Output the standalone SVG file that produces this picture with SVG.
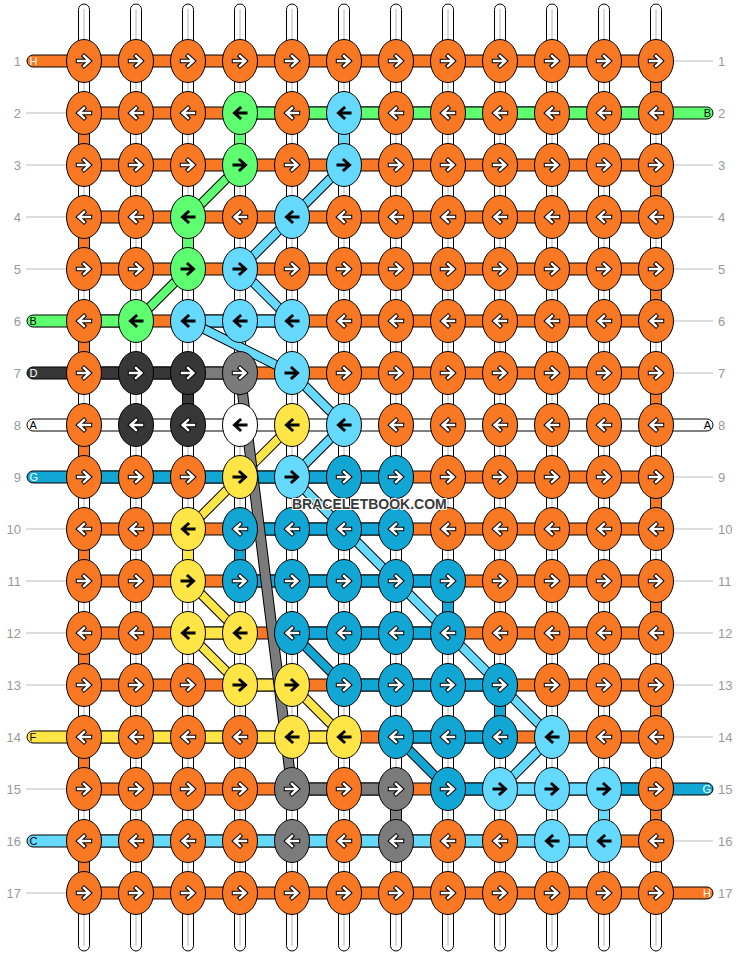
<svg xmlns="http://www.w3.org/2000/svg" xmlns:xlink="http://www.w3.org/1999/xlink" width="740" height="956" viewBox="0 0 740 956">
<style>
.co{fill:#f97823}.cg{fill:#5eff70}.cl{fill:#66d9ff}.cb{fill:#12a6d4}.cd{fill:#373737}.cs{fill:#7b7b7b}.cy{fill:#ffe546}.cw{fill:#fff}
.seg{stroke:#000;stroke-width:1}
.ao{fill:none;stroke:#000;stroke-width:4.4;stroke-linecap:square}
.ai{fill:none;stroke:#fff;stroke-width:2.4;stroke-linecap:square}
.ab{fill:none;stroke:#000;stroke-width:3;stroke-linecap:square}
.num{font-family:"Liberation Sans",Arial,sans-serif;font-size:13px;fill:#999}
.tl{font-family:"Liberation Sans",Arial,sans-serif;font-size:11px}
.guide{stroke:#bbb;stroke-width:1}
.dk{fill:none;stroke:#000;stroke-width:10}
.dgs{fill:none;stroke:#000;stroke-width:11}
.wm{font-family:"Liberation Sans",Arial,sans-serif;font-size:14px;font-weight:bold;fill:#3a3a3a;stroke:#fff;stroke-width:2;paint-order:stroke}
</style>
<defs>
<ellipse id="kn" cx="0" cy="0" rx="17.5" ry="21.5" stroke="#000" stroke-width="1"/>
<path id="pr" d="M-6,0H4.5M0,-5L5.5,0L0,5"/>
<path id="pl" d="M6,0H-4.5M0,-5L-5.5,0L0,5"/>
<g id="rw"><use href="#pr" class="ao"/><use href="#pr" class="ai"/></g>
<g id="lw"><use href="#pl" class="ao"/><use href="#pl" class="ai"/></g>
<use id="rb" href="#pr" class="ab"/>
<use id="lb" href="#pl" class="ab"/>
<g id="vs"><rect x="-5.5" y="4" width="11" height="947" rx="5.5" fill="#fff" stroke="#000"/><line x1="0" y1="9" x2="0" y2="946" stroke="#b4b4b4"/></g>
</defs>
<rect width="740" height="956" fill="#fff"/>
<g id="connectors">
<g id="base-strings">
<use href="#vs" x="84"/><use href="#vs" x="136"/><use href="#vs" x="188"/><use href="#vs" x="240"/><use href="#vs" x="292"/><use href="#vs" x="344"/><use href="#vs" x="396"/><use href="#vs" x="448"/><use href="#vs" x="500"/><use href="#vs" x="552"/><use href="#vs" x="604"/><use href="#vs" x="656"/>
</g>
<g id="vertical-segments" class="seg">
<rect class="co" x="78.5" y="113" width="11" height="52"/><rect class="co" x="78.5" y="217" width="11" height="52"/><rect class="co" x="78.5" y="321" width="11" height="52"/><rect class="co" x="78.5" y="425" width="11" height="52"/><rect class="co" x="78.5" y="529" width="11" height="52"/><rect class="co" x="78.5" y="633" width="11" height="52"/><rect class="co" x="78.5" y="737" width="11" height="52"/><rect class="co" x="78.5" y="841" width="11" height="52"/>
<rect class="co" x="650.5" y="61" width="11" height="52"/><rect class="co" x="650.5" y="165" width="11" height="52"/><rect class="co" x="650.5" y="269" width="11" height="52"/><rect class="co" x="650.5" y="373" width="11" height="52"/><rect class="co" x="650.5" y="477" width="11" height="52"/><rect class="co" x="650.5" y="581" width="11" height="52"/><rect class="co" x="650.5" y="685" width="11" height="52"/><rect class="co" x="650.5" y="789" width="11" height="52"/>
<rect class="cg" x="234.5" y="113" width="11" height="52"/><rect class="cl" x="338.5" y="113" width="11" height="52"/><rect class="cg" x="182.5" y="217" width="11" height="52"/><rect class="cd" x="182.5" y="373" width="11" height="52"/><rect class="cy" x="182.5" y="529" width="11" height="52"/><rect class="cb" x="234.5" y="529" width="11" height="52"/><rect class="cb" x="442.5" y="581" width="11" height="52"/><rect class="cb" x="494.5" y="685" width="11" height="52"/><rect class="cs" x="390.5" y="789" width="11" height="52"/><rect class="cl" x="598.5" y="789" width="11" height="52"/>
</g>
<g id="row-strings" class="seg">
<rect class="co" x="84" y="55" width="572" height="12"/>
<rect class="co" x="84" y="107" width="572" height="12"/><rect class="cg" x="240" y="107" width="416" height="12"/>
<rect class="co" x="84" y="159" width="572" height="12"/>
<rect class="co" x="84" y="211" width="572" height="12"/>
<rect class="co" x="84" y="263" width="572" height="12"/>
<rect class="co" x="84" y="315" width="572" height="12"/><rect class="cg" x="84" y="315" width="52" height="12"/><rect class="cl" x="188" y="315" width="104" height="12"/>
<rect class="co" x="84" y="367" width="572" height="12"/><rect class="cd" x="84" y="367" width="104" height="12"/><rect class="cs" x="188" y="367" width="52" height="12"/>
<rect class="cw" x="84" y="419" width="572" height="12"/>
<rect class="co" x="84" y="471" width="572" height="12"/><rect class="cb" x="84" y="471" width="312" height="12"/>
<rect class="co" x="84" y="523" width="572" height="12"/><rect class="cb" x="240" y="523" width="156" height="12"/>
<rect class="co" x="84" y="575" width="572" height="12"/><rect class="cb" x="240" y="575" width="208" height="12"/>
<rect class="co" x="84" y="627" width="572" height="12"/><rect class="cy" x="188" y="627" width="52" height="12"/><rect class="cb" x="292" y="627" width="156" height="12"/>
<rect class="co" x="84" y="679" width="572" height="12"/><rect class="cy" x="240" y="679" width="52" height="12"/><rect class="cb" x="344" y="679" width="156" height="12"/>
<rect class="co" x="84" y="731" width="572" height="12"/><rect class="cy" x="84" y="731" width="260" height="12"/><rect class="cb" x="396" y="731" width="104" height="12"/>
<rect class="co" x="84" y="783" width="572" height="12"/><rect class="cs" x="292" y="783" width="104" height="12"/><rect class="cb" x="448" y="783" width="52" height="12"/><rect class="cl" x="500" y="783" width="104" height="12"/><rect class="cb" x="604" y="783" width="52" height="12"/>
<rect class="co" x="84" y="835" width="572" height="12"/><rect class="cl" x="84" y="835" width="520" height="12"/>
<rect class="co" x="84" y="887" width="572" height="12"/>
</g>
<g id="tails" class="seg">
<path class="co" d="M84,55H33A6,6 0 0 0 33,67H84Z"/>
<path class="cg" d="M84,315H33A6,6 0 0 0 33,327H84Z"/>
<path class="cd" d="M84,367H33A6,6 0 0 0 33,379H84Z"/>
<path class="cw" d="M84,419H33A6,6 0 0 0 33,431H84Z"/>
<path class="cb" d="M84,471H33A6,6 0 0 0 33,483H84Z"/>
<path class="cy" d="M84,731H33A6,6 0 0 0 33,743H84Z"/>
<path class="cl" d="M84,835H33A6,6 0 0 0 33,847H84Z"/>
<path class="cg" d="M656,107H707A6,6 0 0 1 707,119H656Z"/>
<path class="cw" d="M656,419H707A6,6 0 0 1 707,431H656Z"/>
<path class="cb" d="M656,783H707A6,6 0 0 1 707,795H656Z"/>
<path class="co" d="M656,887H707A6,6 0 0 1 707,899H656Z"/>
</g>
<g id="tail-labels" class="tl">
<text x="29.5" y="65" fill="#fff">H</text>
<text x="29.5" y="325" fill="#000">B</text>
<text x="29.5" y="377" fill="#fff">D</text>
<text x="29.5" y="429" fill="#000">A</text>
<text x="29.5" y="481" fill="#fff">G</text>
<text x="29.5" y="741" fill="#000">F</text>
<text x="29.5" y="845" fill="#000">C</text>
<text x="711" y="117" fill="#000" text-anchor="end">B</text>
<text x="711" y="429" fill="#000" text-anchor="end">A</text>
<text x="711" y="793" fill="#fff" text-anchor="end">G</text>
<text x="711" y="897" fill="#fff" text-anchor="end">H</text>
</g>
<g id="guides" class="guide">
<line x1="26" y1="113" x2="67" y2="113"/><line x1="26" y1="165" x2="67" y2="165"/><line x1="26" y1="217" x2="67" y2="217"/><line x1="26" y1="269" x2="67" y2="269"/><line x1="26" y1="529" x2="67" y2="529"/><line x1="26" y1="581" x2="67" y2="581"/><line x1="26" y1="633" x2="67" y2="633"/><line x1="26" y1="685" x2="67" y2="685"/><line x1="26" y1="789" x2="67" y2="789"/><line x1="26" y1="893" x2="67" y2="893"/>
<line x1="673" y1="61" x2="713" y2="61"/><line x1="673" y1="165" x2="713" y2="165"/><line x1="673" y1="217" x2="713" y2="217"/><line x1="673" y1="269" x2="713" y2="269"/><line x1="673" y1="321" x2="713" y2="321"/><line x1="673" y1="373" x2="713" y2="373"/><line x1="673" y1="477" x2="713" y2="477"/><line x1="673" y1="529" x2="713" y2="529"/><line x1="673" y1="581" x2="713" y2="581"/><line x1="673" y1="633" x2="713" y2="633"/><line x1="673" y1="685" x2="713" y2="685"/><line x1="673" y1="737" x2="713" y2="737"/><line x1="673" y1="841" x2="713" y2="841"/>
</g>
<g id="diagonals">
<path class="dk" d="M240,165L188,217M188,269L136,321"/>
<path fill="none" stroke="#5eff70" stroke-width="8" d="M240,165L188,217M188,269L136,321"/>
<path class="dk" d="M344,165L292,217L240,269L292,321M188,321L292,373L344,425L292,477L552,737L500,789"/>
<path fill="none" stroke="#66d9ff" stroke-width="8" stroke-linejoin="round" d="M344,165L292,217L240,269L292,321M188,321L292,373L344,425L292,477L552,737L500,789"/>
<path class="dk" d="M292,425L188,529M188,581L240,633M188,633L240,685M292,685L344,737"/>
<path fill="none" stroke="#ffe546" stroke-width="8" d="M292,425L188,529M188,581L240,633M188,633L240,685M292,685L344,737"/>
<path class="dk" d="M292,633L344,685M396,737L448,789"/>
<path fill="none" stroke="#12a6d4" stroke-width="8" d="M292,633L344,685M396,737L448,789"/>
<path class="dgs" d="M240,373L292,789"/>
<path fill="none" stroke="#7b7b7b" stroke-width="9" d="M240,373L292,789"/>
</g>
</g>
<g id="row-numbers" class="num">
<text x="21" y="66" text-anchor="end">1</text><text x="21" y="118" text-anchor="end">2</text><text x="21" y="170" text-anchor="end">3</text><text x="21" y="222" text-anchor="end">4</text><text x="21" y="274" text-anchor="end">5</text><text x="21" y="326" text-anchor="end">6</text><text x="21" y="378" text-anchor="end">7</text><text x="21" y="430" text-anchor="end">8</text><text x="21" y="482" text-anchor="end">9</text><text x="21" y="534" text-anchor="end">10</text><text x="21" y="586" text-anchor="end">11</text><text x="21" y="638" text-anchor="end">12</text><text x="21" y="690" text-anchor="end">13</text><text x="21" y="742" text-anchor="end">14</text><text x="21" y="794" text-anchor="end">15</text><text x="21" y="846" text-anchor="end">16</text><text x="21" y="898" text-anchor="end">17</text>
<text x="718" y="66">1</text><text x="718" y="118">2</text><text x="718" y="170">3</text><text x="718" y="222">4</text><text x="718" y="274">5</text><text x="718" y="326">6</text><text x="718" y="378">7</text><text x="718" y="430">8</text><text x="718" y="482">9</text><text x="718" y="534">10</text><text x="718" y="586">11</text><text x="718" y="638">12</text><text x="718" y="690">13</text><text x="718" y="742">14</text><text x="718" y="794">15</text><text x="718" y="846">16</text><text x="718" y="898">17</text>
</g>
<g id="knots">
<g id="r1c1"><use href="#kn" class="co" x="84" y="61"/><use href="#rw" x="84" y="61"/></g>
<g id="r1c2"><use href="#kn" class="co" x="136" y="61"/><use href="#rw" x="136" y="61"/></g>
<g id="r1c3"><use href="#kn" class="co" x="188" y="61"/><use href="#rw" x="188" y="61"/></g>
<g id="r1c4"><use href="#kn" class="co" x="240" y="61"/><use href="#rw" x="240" y="61"/></g>
<g id="r1c5"><use href="#kn" class="co" x="292" y="61"/><use href="#rw" x="292" y="61"/></g>
<g id="r1c6"><use href="#kn" class="co" x="344" y="61"/><use href="#rw" x="344" y="61"/></g>
<g id="r1c7"><use href="#kn" class="co" x="396" y="61"/><use href="#rw" x="396" y="61"/></g>
<g id="r1c8"><use href="#kn" class="co" x="448" y="61"/><use href="#rw" x="448" y="61"/></g>
<g id="r1c9"><use href="#kn" class="co" x="500" y="61"/><use href="#rw" x="500" y="61"/></g>
<g id="r1c10"><use href="#kn" class="co" x="552" y="61"/><use href="#rw" x="552" y="61"/></g>
<g id="r1c11"><use href="#kn" class="co" x="604" y="61"/><use href="#rw" x="604" y="61"/></g>
<g id="r1c12"><use href="#kn" class="co" x="656" y="61"/><use href="#rw" x="656" y="61"/></g>

<g id="r2c1"><use href="#kn" class="co" x="84" y="113"/><use href="#lw" x="84" y="113"/></g>
<g id="r2c2"><use href="#kn" class="co" x="136" y="113"/><use href="#lw" x="136" y="113"/></g>
<g id="r2c3"><use href="#kn" class="co" x="188" y="113"/><use href="#lw" x="188" y="113"/></g>
<g id="r2c4"><use href="#kn" class="cg" x="240" y="113"/><use href="#lb" x="240" y="113"/></g>
<g id="r2c5"><use href="#kn" class="co" x="292" y="113"/><use href="#lw" x="292" y="113"/></g>
<g id="r2c6"><use href="#kn" class="cl" x="344" y="113"/><use href="#lb" x="344" y="113"/></g>
<g id="r2c7"><use href="#kn" class="co" x="396" y="113"/><use href="#lw" x="396" y="113"/></g>
<g id="r2c8"><use href="#kn" class="co" x="448" y="113"/><use href="#lw" x="448" y="113"/></g>
<g id="r2c9"><use href="#kn" class="co" x="500" y="113"/><use href="#lw" x="500" y="113"/></g>
<g id="r2c10"><use href="#kn" class="co" x="552" y="113"/><use href="#lw" x="552" y="113"/></g>
<g id="r2c11"><use href="#kn" class="co" x="604" y="113"/><use href="#lw" x="604" y="113"/></g>
<g id="r2c12"><use href="#kn" class="co" x="656" y="113"/><use href="#lw" x="656" y="113"/></g>

<g id="r3c1"><use href="#kn" class="co" x="84" y="165"/><use href="#rw" x="84" y="165"/></g>
<g id="r3c2"><use href="#kn" class="co" x="136" y="165"/><use href="#rw" x="136" y="165"/></g>
<g id="r3c3"><use href="#kn" class="co" x="188" y="165"/><use href="#rw" x="188" y="165"/></g>
<g id="r3c4"><use href="#kn" class="cg" x="240" y="165"/><use href="#rb" x="240" y="165"/></g>
<g id="r3c5"><use href="#kn" class="co" x="292" y="165"/><use href="#rw" x="292" y="165"/></g>
<g id="r3c6"><use href="#kn" class="cl" x="344" y="165"/><use href="#rb" x="344" y="165"/></g>
<g id="r3c7"><use href="#kn" class="co" x="396" y="165"/><use href="#rw" x="396" y="165"/></g>
<g id="r3c8"><use href="#kn" class="co" x="448" y="165"/><use href="#rw" x="448" y="165"/></g>
<g id="r3c9"><use href="#kn" class="co" x="500" y="165"/><use href="#rw" x="500" y="165"/></g>
<g id="r3c10"><use href="#kn" class="co" x="552" y="165"/><use href="#rw" x="552" y="165"/></g>
<g id="r3c11"><use href="#kn" class="co" x="604" y="165"/><use href="#rw" x="604" y="165"/></g>
<g id="r3c12"><use href="#kn" class="co" x="656" y="165"/><use href="#rw" x="656" y="165"/></g>

<g id="r4c1"><use href="#kn" class="co" x="84" y="217"/><use href="#lw" x="84" y="217"/></g>
<g id="r4c2"><use href="#kn" class="co" x="136" y="217"/><use href="#lw" x="136" y="217"/></g>
<g id="r4c3"><use href="#kn" class="cg" x="188" y="217"/><use href="#lb" x="188" y="217"/></g>
<g id="r4c4"><use href="#kn" class="co" x="240" y="217"/><use href="#lw" x="240" y="217"/></g>
<g id="r4c5"><use href="#kn" class="cl" x="292" y="217"/><use href="#lb" x="292" y="217"/></g>
<g id="r4c6"><use href="#kn" class="co" x="344" y="217"/><use href="#lw" x="344" y="217"/></g>
<g id="r4c7"><use href="#kn" class="co" x="396" y="217"/><use href="#lw" x="396" y="217"/></g>
<g id="r4c8"><use href="#kn" class="co" x="448" y="217"/><use href="#lw" x="448" y="217"/></g>
<g id="r4c9"><use href="#kn" class="co" x="500" y="217"/><use href="#lw" x="500" y="217"/></g>
<g id="r4c10"><use href="#kn" class="co" x="552" y="217"/><use href="#lw" x="552" y="217"/></g>
<g id="r4c11"><use href="#kn" class="co" x="604" y="217"/><use href="#lw" x="604" y="217"/></g>
<g id="r4c12"><use href="#kn" class="co" x="656" y="217"/><use href="#lw" x="656" y="217"/></g>

<g id="r5c1"><use href="#kn" class="co" x="84" y="269"/><use href="#rw" x="84" y="269"/></g>
<g id="r5c2"><use href="#kn" class="co" x="136" y="269"/><use href="#rw" x="136" y="269"/></g>
<g id="r5c3"><use href="#kn" class="cg" x="188" y="269"/><use href="#rb" x="188" y="269"/></g>
<g id="r5c4"><use href="#kn" class="cl" x="240" y="269"/><use href="#rb" x="240" y="269"/></g>
<g id="r5c5"><use href="#kn" class="co" x="292" y="269"/><use href="#rw" x="292" y="269"/></g>
<g id="r5c6"><use href="#kn" class="co" x="344" y="269"/><use href="#rw" x="344" y="269"/></g>
<g id="r5c7"><use href="#kn" class="co" x="396" y="269"/><use href="#rw" x="396" y="269"/></g>
<g id="r5c8"><use href="#kn" class="co" x="448" y="269"/><use href="#rw" x="448" y="269"/></g>
<g id="r5c9"><use href="#kn" class="co" x="500" y="269"/><use href="#rw" x="500" y="269"/></g>
<g id="r5c10"><use href="#kn" class="co" x="552" y="269"/><use href="#rw" x="552" y="269"/></g>
<g id="r5c11"><use href="#kn" class="co" x="604" y="269"/><use href="#rw" x="604" y="269"/></g>
<g id="r5c12"><use href="#kn" class="co" x="656" y="269"/><use href="#rw" x="656" y="269"/></g>

<g id="r6c1"><use href="#kn" class="co" x="84" y="321"/><use href="#lw" x="84" y="321"/></g>
<g id="r6c2"><use href="#kn" class="cg" x="136" y="321"/><use href="#lb" x="136" y="321"/></g>
<g id="r6c3"><use href="#kn" class="cl" x="188" y="321"/><use href="#lb" x="188" y="321"/></g>
<g id="r6c4"><use href="#kn" class="cl" x="240" y="321"/><use href="#lb" x="240" y="321"/></g>
<g id="r6c5"><use href="#kn" class="cl" x="292" y="321"/><use href="#lb" x="292" y="321"/></g>
<g id="r6c6"><use href="#kn" class="co" x="344" y="321"/><use href="#lw" x="344" y="321"/></g>
<g id="r6c7"><use href="#kn" class="co" x="396" y="321"/><use href="#lw" x="396" y="321"/></g>
<g id="r6c8"><use href="#kn" class="co" x="448" y="321"/><use href="#lw" x="448" y="321"/></g>
<g id="r6c9"><use href="#kn" class="co" x="500" y="321"/><use href="#lw" x="500" y="321"/></g>
<g id="r6c10"><use href="#kn" class="co" x="552" y="321"/><use href="#lw" x="552" y="321"/></g>
<g id="r6c11"><use href="#kn" class="co" x="604" y="321"/><use href="#lw" x="604" y="321"/></g>
<g id="r6c12"><use href="#kn" class="co" x="656" y="321"/><use href="#lw" x="656" y="321"/></g>

<g id="r7c1"><use href="#kn" class="co" x="84" y="373"/><use href="#rw" x="84" y="373"/></g>
<g id="r7c2"><use href="#kn" class="cd" x="136" y="373"/><use href="#rw" x="136" y="373"/></g>
<g id="r7c3"><use href="#kn" class="cd" x="188" y="373"/><use href="#rw" x="188" y="373"/></g>
<g id="r7c4"><use href="#kn" class="cs" x="240" y="373"/><use href="#rw" x="240" y="373"/></g>
<g id="r7c5"><use href="#kn" class="cl" x="292" y="373"/><use href="#rb" x="292" y="373"/></g>
<g id="r7c6"><use href="#kn" class="co" x="344" y="373"/><use href="#rw" x="344" y="373"/></g>
<g id="r7c7"><use href="#kn" class="co" x="396" y="373"/><use href="#rw" x="396" y="373"/></g>
<g id="r7c8"><use href="#kn" class="co" x="448" y="373"/><use href="#rw" x="448" y="373"/></g>
<g id="r7c9"><use href="#kn" class="co" x="500" y="373"/><use href="#rw" x="500" y="373"/></g>
<g id="r7c10"><use href="#kn" class="co" x="552" y="373"/><use href="#rw" x="552" y="373"/></g>
<g id="r7c11"><use href="#kn" class="co" x="604" y="373"/><use href="#rw" x="604" y="373"/></g>
<g id="r7c12"><use href="#kn" class="co" x="656" y="373"/><use href="#rw" x="656" y="373"/></g>

<g id="r8c1"><use href="#kn" class="co" x="84" y="425"/><use href="#lw" x="84" y="425"/></g>
<g id="r8c2"><use href="#kn" class="cd" x="136" y="425"/><use href="#lw" x="136" y="425"/></g>
<g id="r8c3"><use href="#kn" class="cd" x="188" y="425"/><use href="#lw" x="188" y="425"/></g>
<g id="r8c4"><use href="#kn" class="cw" x="240" y="425"/><use href="#lb" x="240" y="425"/></g>
<g id="r8c5"><use href="#kn" class="cy" x="292" y="425"/><use href="#lb" x="292" y="425"/></g>
<g id="r8c6"><use href="#kn" class="cl" x="344" y="425"/><use href="#lb" x="344" y="425"/></g>
<g id="r8c7"><use href="#kn" class="co" x="396" y="425"/><use href="#lw" x="396" y="425"/></g>
<g id="r8c8"><use href="#kn" class="co" x="448" y="425"/><use href="#lw" x="448" y="425"/></g>
<g id="r8c9"><use href="#kn" class="co" x="500" y="425"/><use href="#lw" x="500" y="425"/></g>
<g id="r8c10"><use href="#kn" class="co" x="552" y="425"/><use href="#lw" x="552" y="425"/></g>
<g id="r8c11"><use href="#kn" class="co" x="604" y="425"/><use href="#lw" x="604" y="425"/></g>
<g id="r8c12"><use href="#kn" class="co" x="656" y="425"/><use href="#lw" x="656" y="425"/></g>

<g id="r9c1"><use href="#kn" class="co" x="84" y="477"/><use href="#rw" x="84" y="477"/></g>
<g id="r9c2"><use href="#kn" class="co" x="136" y="477"/><use href="#rw" x="136" y="477"/></g>
<g id="r9c3"><use href="#kn" class="co" x="188" y="477"/><use href="#rw" x="188" y="477"/></g>
<g id="r9c4"><use href="#kn" class="cy" x="240" y="477"/><use href="#rb" x="240" y="477"/></g>
<g id="r9c5"><use href="#kn" class="cl" x="292" y="477"/><use href="#rb" x="292" y="477"/></g>
<g id="r9c6"><use href="#kn" class="cb" x="344" y="477"/><use href="#rw" x="344" y="477"/></g>
<g id="r9c7"><use href="#kn" class="cb" x="396" y="477"/><use href="#rw" x="396" y="477"/></g>
<g id="r9c8"><use href="#kn" class="co" x="448" y="477"/><use href="#rw" x="448" y="477"/></g>
<g id="r9c9"><use href="#kn" class="co" x="500" y="477"/><use href="#rw" x="500" y="477"/></g>
<g id="r9c10"><use href="#kn" class="co" x="552" y="477"/><use href="#rw" x="552" y="477"/></g>
<g id="r9c11"><use href="#kn" class="co" x="604" y="477"/><use href="#rw" x="604" y="477"/></g>
<g id="r9c12"><use href="#kn" class="co" x="656" y="477"/><use href="#rw" x="656" y="477"/></g>

<g id="r10c1"><use href="#kn" class="co" x="84" y="529"/><use href="#lw" x="84" y="529"/></g>
<g id="r10c2"><use href="#kn" class="co" x="136" y="529"/><use href="#lw" x="136" y="529"/></g>
<g id="r10c3"><use href="#kn" class="cy" x="188" y="529"/><use href="#lb" x="188" y="529"/></g>
<g id="r10c4"><use href="#kn" class="cb" x="240" y="529"/><use href="#lw" x="240" y="529"/></g>
<g id="r10c5"><use href="#kn" class="cb" x="292" y="529"/><use href="#lw" x="292" y="529"/></g>
<g id="r10c6"><use href="#kn" class="cb" x="344" y="529"/><use href="#lw" x="344" y="529"/></g>
<g id="r10c7"><use href="#kn" class="cb" x="396" y="529"/><use href="#lw" x="396" y="529"/></g>
<g id="r10c8"><use href="#kn" class="co" x="448" y="529"/><use href="#lw" x="448" y="529"/></g>
<g id="r10c9"><use href="#kn" class="co" x="500" y="529"/><use href="#lw" x="500" y="529"/></g>
<g id="r10c10"><use href="#kn" class="co" x="552" y="529"/><use href="#lw" x="552" y="529"/></g>
<g id="r10c11"><use href="#kn" class="co" x="604" y="529"/><use href="#lw" x="604" y="529"/></g>
<g id="r10c12"><use href="#kn" class="co" x="656" y="529"/><use href="#lw" x="656" y="529"/></g>

<g id="r11c1"><use href="#kn" class="co" x="84" y="581"/><use href="#rw" x="84" y="581"/></g>
<g id="r11c2"><use href="#kn" class="co" x="136" y="581"/><use href="#rw" x="136" y="581"/></g>
<g id="r11c3"><use href="#kn" class="cy" x="188" y="581"/><use href="#rb" x="188" y="581"/></g>
<g id="r11c4"><use href="#kn" class="cb" x="240" y="581"/><use href="#rw" x="240" y="581"/></g>
<g id="r11c5"><use href="#kn" class="cb" x="292" y="581"/><use href="#rw" x="292" y="581"/></g>
<g id="r11c6"><use href="#kn" class="cb" x="344" y="581"/><use href="#rw" x="344" y="581"/></g>
<g id="r11c7"><use href="#kn" class="cb" x="396" y="581"/><use href="#rw" x="396" y="581"/></g>
<g id="r11c8"><use href="#kn" class="cb" x="448" y="581"/><use href="#rw" x="448" y="581"/></g>
<g id="r11c9"><use href="#kn" class="co" x="500" y="581"/><use href="#rw" x="500" y="581"/></g>
<g id="r11c10"><use href="#kn" class="co" x="552" y="581"/><use href="#rw" x="552" y="581"/></g>
<g id="r11c11"><use href="#kn" class="co" x="604" y="581"/><use href="#rw" x="604" y="581"/></g>
<g id="r11c12"><use href="#kn" class="co" x="656" y="581"/><use href="#rw" x="656" y="581"/></g>

<g id="r12c1"><use href="#kn" class="co" x="84" y="633"/><use href="#lw" x="84" y="633"/></g>
<g id="r12c2"><use href="#kn" class="co" x="136" y="633"/><use href="#lw" x="136" y="633"/></g>
<g id="r12c3"><use href="#kn" class="cy" x="188" y="633"/><use href="#lb" x="188" y="633"/></g>
<g id="r12c4"><use href="#kn" class="cy" x="240" y="633"/><use href="#lb" x="240" y="633"/></g>
<g id="r12c5"><use href="#kn" class="cb" x="292" y="633"/><use href="#lw" x="292" y="633"/></g>
<g id="r12c6"><use href="#kn" class="cb" x="344" y="633"/><use href="#lw" x="344" y="633"/></g>
<g id="r12c7"><use href="#kn" class="cb" x="396" y="633"/><use href="#lw" x="396" y="633"/></g>
<g id="r12c8"><use href="#kn" class="cb" x="448" y="633"/><use href="#lw" x="448" y="633"/></g>
<g id="r12c9"><use href="#kn" class="co" x="500" y="633"/><use href="#lw" x="500" y="633"/></g>
<g id="r12c10"><use href="#kn" class="co" x="552" y="633"/><use href="#lw" x="552" y="633"/></g>
<g id="r12c11"><use href="#kn" class="co" x="604" y="633"/><use href="#lw" x="604" y="633"/></g>
<g id="r12c12"><use href="#kn" class="co" x="656" y="633"/><use href="#lw" x="656" y="633"/></g>

<g id="r13c1"><use href="#kn" class="co" x="84" y="685"/><use href="#rw" x="84" y="685"/></g>
<g id="r13c2"><use href="#kn" class="co" x="136" y="685"/><use href="#rw" x="136" y="685"/></g>
<g id="r13c3"><use href="#kn" class="co" x="188" y="685"/><use href="#rw" x="188" y="685"/></g>
<g id="r13c4"><use href="#kn" class="cy" x="240" y="685"/><use href="#rb" x="240" y="685"/></g>
<g id="r13c5"><use href="#kn" class="cy" x="292" y="685"/><use href="#rb" x="292" y="685"/></g>
<g id="r13c6"><use href="#kn" class="cb" x="344" y="685"/><use href="#rw" x="344" y="685"/></g>
<g id="r13c7"><use href="#kn" class="cb" x="396" y="685"/><use href="#rw" x="396" y="685"/></g>
<g id="r13c8"><use href="#kn" class="cb" x="448" y="685"/><use href="#rw" x="448" y="685"/></g>
<g id="r13c9"><use href="#kn" class="cb" x="500" y="685"/><use href="#rw" x="500" y="685"/></g>
<g id="r13c10"><use href="#kn" class="co" x="552" y="685"/><use href="#rw" x="552" y="685"/></g>
<g id="r13c11"><use href="#kn" class="co" x="604" y="685"/><use href="#rw" x="604" y="685"/></g>
<g id="r13c12"><use href="#kn" class="co" x="656" y="685"/><use href="#rw" x="656" y="685"/></g>

<g id="r14c1"><use href="#kn" class="co" x="84" y="737"/><use href="#lw" x="84" y="737"/></g>
<g id="r14c2"><use href="#kn" class="co" x="136" y="737"/><use href="#lw" x="136" y="737"/></g>
<g id="r14c3"><use href="#kn" class="co" x="188" y="737"/><use href="#lw" x="188" y="737"/></g>
<g id="r14c4"><use href="#kn" class="co" x="240" y="737"/><use href="#lw" x="240" y="737"/></g>
<g id="r14c5"><use href="#kn" class="cy" x="292" y="737"/><use href="#lb" x="292" y="737"/></g>
<g id="r14c6"><use href="#kn" class="cy" x="344" y="737"/><use href="#lb" x="344" y="737"/></g>
<g id="r14c7"><use href="#kn" class="cb" x="396" y="737"/><use href="#lw" x="396" y="737"/></g>
<g id="r14c8"><use href="#kn" class="cb" x="448" y="737"/><use href="#lw" x="448" y="737"/></g>
<g id="r14c9"><use href="#kn" class="cb" x="500" y="737"/><use href="#lw" x="500" y="737"/></g>
<g id="r14c10"><use href="#kn" class="cl" x="552" y="737"/><use href="#lb" x="552" y="737"/></g>
<g id="r14c11"><use href="#kn" class="co" x="604" y="737"/><use href="#lw" x="604" y="737"/></g>
<g id="r14c12"><use href="#kn" class="co" x="656" y="737"/><use href="#lw" x="656" y="737"/></g>

<g id="r15c1"><use href="#kn" class="co" x="84" y="789"/><use href="#rw" x="84" y="789"/></g>
<g id="r15c2"><use href="#kn" class="co" x="136" y="789"/><use href="#rw" x="136" y="789"/></g>
<g id="r15c3"><use href="#kn" class="co" x="188" y="789"/><use href="#rw" x="188" y="789"/></g>
<g id="r15c4"><use href="#kn" class="co" x="240" y="789"/><use href="#rw" x="240" y="789"/></g>
<g id="r15c5"><use href="#kn" class="cs" x="292" y="789"/><use href="#rw" x="292" y="789"/></g>
<g id="r15c6"><use href="#kn" class="co" x="344" y="789"/><use href="#rw" x="344" y="789"/></g>
<g id="r15c7"><use href="#kn" class="cs" x="396" y="789"/><use href="#rw" x="396" y="789"/></g>
<g id="r15c8"><use href="#kn" class="cb" x="448" y="789"/><use href="#rw" x="448" y="789"/></g>
<g id="r15c9"><use href="#kn" class="cl" x="500" y="789"/><use href="#rb" x="500" y="789"/></g>
<g id="r15c10"><use href="#kn" class="cl" x="552" y="789"/><use href="#rb" x="552" y="789"/></g>
<g id="r15c11"><use href="#kn" class="cl" x="604" y="789"/><use href="#rb" x="604" y="789"/></g>
<g id="r15c12"><use href="#kn" class="co" x="656" y="789"/><use href="#rw" x="656" y="789"/></g>

<g id="r16c1"><use href="#kn" class="co" x="84" y="841"/><use href="#lw" x="84" y="841"/></g>
<g id="r16c2"><use href="#kn" class="co" x="136" y="841"/><use href="#lw" x="136" y="841"/></g>
<g id="r16c3"><use href="#kn" class="co" x="188" y="841"/><use href="#lw" x="188" y="841"/></g>
<g id="r16c4"><use href="#kn" class="co" x="240" y="841"/><use href="#lw" x="240" y="841"/></g>
<g id="r16c5"><use href="#kn" class="cs" x="292" y="841"/><use href="#lw" x="292" y="841"/></g>
<g id="r16c6"><use href="#kn" class="co" x="344" y="841"/><use href="#lw" x="344" y="841"/></g>
<g id="r16c7"><use href="#kn" class="cs" x="396" y="841"/><use href="#lw" x="396" y="841"/></g>
<g id="r16c8"><use href="#kn" class="co" x="448" y="841"/><use href="#lw" x="448" y="841"/></g>
<g id="r16c9"><use href="#kn" class="co" x="500" y="841"/><use href="#lw" x="500" y="841"/></g>
<g id="r16c10"><use href="#kn" class="cl" x="552" y="841"/><use href="#lb" x="552" y="841"/></g>
<g id="r16c11"><use href="#kn" class="cl" x="604" y="841"/><use href="#lb" x="604" y="841"/></g>
<g id="r16c12"><use href="#kn" class="co" x="656" y="841"/><use href="#lw" x="656" y="841"/></g>

<g id="r17c1"><use href="#kn" class="co" x="84" y="893"/><use href="#rw" x="84" y="893"/></g>
<g id="r17c2"><use href="#kn" class="co" x="136" y="893"/><use href="#rw" x="136" y="893"/></g>
<g id="r17c3"><use href="#kn" class="co" x="188" y="893"/><use href="#rw" x="188" y="893"/></g>
<g id="r17c4"><use href="#kn" class="co" x="240" y="893"/><use href="#rw" x="240" y="893"/></g>
<g id="r17c5"><use href="#kn" class="co" x="292" y="893"/><use href="#rw" x="292" y="893"/></g>
<g id="r17c6"><use href="#kn" class="co" x="344" y="893"/><use href="#rw" x="344" y="893"/></g>
<g id="r17c7"><use href="#kn" class="co" x="396" y="893"/><use href="#rw" x="396" y="893"/></g>
<g id="r17c8"><use href="#kn" class="co" x="448" y="893"/><use href="#rw" x="448" y="893"/></g>
<g id="r17c9"><use href="#kn" class="co" x="500" y="893"/><use href="#rw" x="500" y="893"/></g>
<g id="r17c10"><use href="#kn" class="co" x="552" y="893"/><use href="#rw" x="552" y="893"/></g>
<g id="r17c11"><use href="#kn" class="co" x="604" y="893"/><use href="#rw" x="604" y="893"/></g>
<g id="r17c12"><use href="#kn" class="co" x="656" y="893"/><use href="#rw" x="656" y="893"/></g>
</g>
<text class="wm" x="292" y="509">BRACELETBOOK.COM</text>
</svg>
